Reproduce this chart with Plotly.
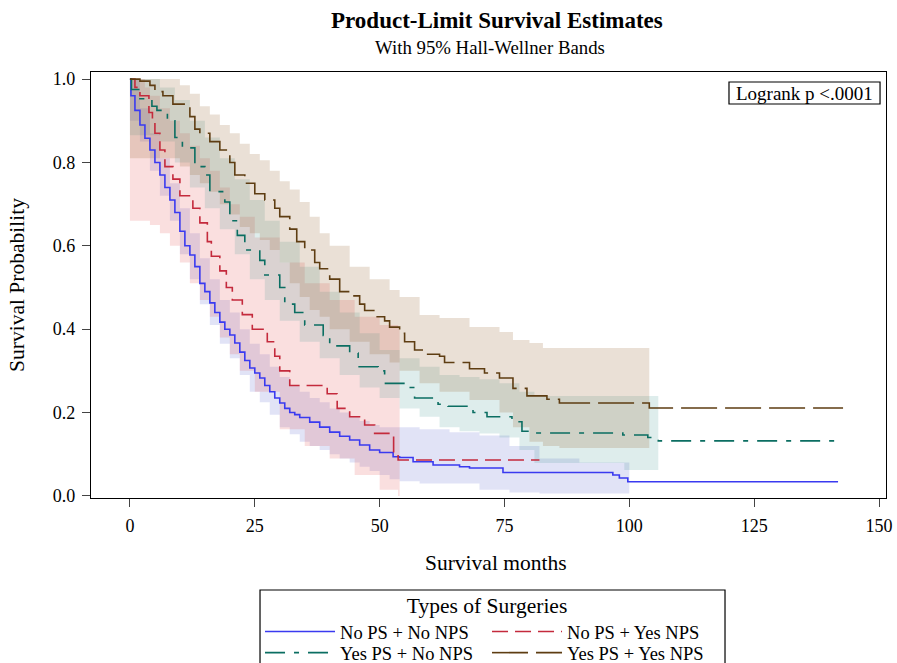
import plotly.graph_objects as go

# ---------------- data ----------------
group_names = ["No PS + No NPS", "No PS + Yes NPS", "Yes PS + No NPS", "Yes PS + Yes NPS"]

blue_t = [0, 0.2, 1, 2, 3, 4, 5, 6, 7, 8, 9, 10, 11, 12, 13, 14, 15, 16, 17, 18, 19, 20, 21, 22,
          23, 24, 25, 26, 27, 28, 29, 30, 31, 32, 33, 34, 36, 38, 40, 42, 44, 46, 48, 50, 52.7,
          54, 56.7, 60.7, 66, 68, 74.7, 96.7, 98, 99.7, 141.8]
blue_s = [1.0, 0.96, 0.925, 0.89, 0.858, 0.83, 0.80, 0.77, 0.74, 0.71, 0.68, 0.635, 0.60, 0.578,
          0.55, 0.51, 0.49, 0.463, 0.44, 0.417, 0.40, 0.386, 0.367, 0.345, 0.325, 0.307, 0.295,
          0.283, 0.265, 0.25, 0.235, 0.223, 0.21, 0.20, 0.195, 0.188, 0.177, 0.165, 0.153, 0.143,
          0.134, 0.122, 0.11, 0.104, 0.094, 0.092, 0.082, 0.074, 0.07, 0.067, 0.056, 0.05, 0.043,
          0.034, 0.034]

red_t = [0, 1, 2, 3.8, 4.5, 5, 6, 7, 8.6, 10, 12.6, 14, 15.5, 16.3, 18, 19.3, 20.5, 22.5, 24.5,
         27.5, 29, 30, 32, 39.5, 41.5, 44, 47, 49, 52.8, 53.7, 82]
red_s = [1.0, 0.98, 0.96, 0.92, 0.90, 0.87, 0.83, 0.79, 0.76, 0.72, 0.69, 0.655, 0.61, 0.575,
         0.54, 0.50, 0.47, 0.435, 0.40, 0.37, 0.335, 0.30, 0.265, 0.245, 0.21, 0.19, 0.17, 0.15,
         0.10, 0.086, 0.086]

green_t = [0, 0.3, 2, 4.4, 5.4, 7.5, 9, 10.5, 13, 15, 16, 19, 20, 21.5, 23, 26, 27, 30, 31, 33,
           35, 38.7, 40, 44, 45.7, 49.7, 51, 55.7, 57, 61.7, 63.7, 68.7, 71.5, 76.5, 78.5, 80.7,
           98.7, 103.7, 105.8, 141.8]
green_s = [1.0, 0.975, 0.953, 0.935, 0.925, 0.90, 0.86, 0.835, 0.79, 0.77, 0.73, 0.705, 0.66,
           0.625, 0.59, 0.565, 0.53, 0.50, 0.46, 0.44, 0.41, 0.385, 0.36, 0.343, 0.31, 0.30, 0.27,
           0.26, 0.235, 0.22, 0.215, 0.20, 0.19, 0.178, 0.155, 0.151, 0.146, 0.14, 0.132, 0.132]

brown_t = [0, 2, 4, 5, 6.6, 8.6, 12, 13, 14, 16, 18, 20, 21, 23, 25, 27, 29, 30, 32, 33.4, 35,
           37, 38, 40, 42, 44, 46, 47, 49, 51, 52, 54, 55, 57, 59, 62, 63, 68, 71, 74, 76.7, 79.5,
           83.5, 86, 104, 142.8]
brown_s = [1.0, 0.995, 0.985, 0.97, 0.96, 0.94, 0.91, 0.88, 0.87, 0.85, 0.83, 0.80, 0.77, 0.75,
           0.725, 0.71, 0.69, 0.67, 0.64, 0.61, 0.59, 0.56, 0.545, 0.52, 0.49, 0.48, 0.46, 0.445,
           0.43, 0.42, 0.405, 0.39, 0.37, 0.35, 0.34, 0.335, 0.32, 0.305, 0.295, 0.283, 0.258,
           0.24, 0.232, 0.223, 0.211, 0.211]

# 95% Hall-Wellner bands
blue_band_t = [0, 2, 4, 6, 8, 10, 12, 14, 16, 18, 20, 22, 24, 26, 28, 30, 32, 34, 36, 38, 40,
               42, 44, 46, 48, 50, 52, 54, 58, 64, 70, 76, 82, 90, 100]
blue_upper = [1.0, 0.93, 0.87, 0.81, 0.75, 0.69, 0.63, 0.57, 0.52, 0.47, 0.44, 0.40, 0.365,
              0.34, 0.31, 0.285, 0.265, 0.25, 0.235, 0.225, 0.21, 0.20, 0.19, 0.18, 0.17, 0.165,
              0.165, 0.165, 0.16, 0.153, 0.145, 0.12, 0.09, 0.08, 0.074]
blue_lower = [0.90, 0.85, 0.78, 0.72, 0.66, 0.58, 0.52, 0.46, 0.41, 0.365, 0.33, 0.29, 0.25,
              0.225, 0.195, 0.165, 0.148, 0.13, 0.12, 0.11, 0.10, 0.09, 0.08, 0.07, 0.06, 0.05,
              0.04, 0.035, 0.03, 0.03, 0.015, 0.008, 0.006, 0.006, 0.0]

red_band_t = [0, 3, 4, 6, 8, 10, 12, 14, 16, 18, 20, 22, 25, 30, 35, 40, 45, 50, 53.7, 54]
red_upper = [1.0, 0.98, 0.96, 0.93, 0.90, 0.87, 0.84, 0.81, 0.78, 0.74, 0.70, 0.67, 0.62, 0.56,
             0.51, 0.47, 0.43, 0.41, 0.40, 0.40]
red_lower = [0.66, 0.66, 0.65, 0.63, 0.60, 0.56, 0.51, 0.47, 0.43, 0.38, 0.34, 0.30, 0.25, 0.16,
             0.12, 0.09, 0.05, 0.015, 0.0, 0.0]

green_band_t = [0, 3, 6, 9, 12, 15, 18, 21, 24, 27, 30, 34, 38, 42, 46, 50, 54, 58, 62, 66, 70,
                74, 78, 81, 99, 105.8]
green_upper = [1.0, 1.0, 0.98, 0.95, 0.90, 0.86, 0.81, 0.76, 0.71, 0.66, 0.61, 0.55, 0.49, 0.44,
               0.39, 0.35, 0.33, 0.31, 0.29, 0.285, 0.28, 0.27, 0.25, 0.24, 0.24, 0.24]
green_lower = [0.865, 0.865, 0.85, 0.80, 0.74, 0.69, 0.64, 0.58, 0.52, 0.47, 0.42, 0.37, 0.33,
               0.29, 0.26, 0.235, 0.21, 0.19, 0.165, 0.155, 0.15, 0.14, 0.11, 0.079, 0.062, 0.062]

brown_band_t = [0, 8, 10, 12, 14, 16, 18, 20, 22, 24, 26, 28, 30, 32, 34, 36, 38, 40, 44, 48, 52,
                54, 58, 62, 68, 74, 76.7, 80, 82.7, 86, 104]
brown_upper = [1.0, 1.0, 0.985, 0.965, 0.935, 0.915, 0.89, 0.87, 0.845, 0.82, 0.805, 0.78, 0.755,
               0.735, 0.705, 0.67, 0.63, 0.60, 0.55, 0.52, 0.494, 0.477, 0.434, 0.427, 0.405,
               0.393, 0.374, 0.367, 0.355, 0.355, 0.355]
brown_lower = [0.81, 0.81, 0.79, 0.77, 0.75, 0.73, 0.70, 0.675, 0.645, 0.63, 0.614, 0.59, 0.56,
               0.51, 0.477, 0.446, 0.43, 0.40, 0.37, 0.34, 0.32, 0.30, 0.27, 0.25, 0.23, 0.20,
               0.165, 0.13, 0.12, 0.115, 0.115]

x_ticks = [0, 25, 50, 75, 100, 125, 150]
y_ticks = [0.0, 0.2, 0.4, 0.6, 0.8, 1.0]

# ---------------- styling ----------------
FONT = "Liberation Serif, Times New Roman, serif"
line_colors = ["#3a3af0", "#c42a3c", "#0b6e62", "#5e3d12"]
band_colors = ["rgba(70,80,200,0.16)", "rgba(225,80,80,0.18)",
               "rgba(60,150,140,0.17)", "rgba(150,100,50,0.2)"]
dashes = ["solid", "16px,7px", "20px,9px,5px,9px", "36px,8px"]
legend_of = ["legend", "legend", "legend2", "legend2"]

curves = [(blue_t, blue_s), (red_t, red_s), (green_t, green_s), (brown_t, brown_s)]
bands = [(blue_band_t, blue_upper, blue_lower), (red_band_t, red_upper, red_lower),
         (green_band_t, green_upper, green_lower), (brown_band_t, brown_upper, brown_lower)]

fig = go.Figure()

for i, (bt, bu, bl) in enumerate(bands):
    fig.add_trace(go.Scatter(x=bt, y=bu, mode="lines", line=dict(width=0, shape="hv"),
                             showlegend=False, hoverinfo="skip"))
    fig.add_trace(go.Scatter(x=bt, y=bl, mode="lines", line=dict(width=0, shape="hv"),
                             fill="tonexty", fillcolor=band_colors[i],
                             showlegend=False, hoverinfo="skip"))

for i, (t, s) in enumerate(curves):
    fig.add_trace(go.Scatter(x=t, y=s, mode="lines", name=group_names[i], legend=legend_of[i],
                             line=dict(color=line_colors[i], width=1.6, shape="hv",
                                       dash=dashes[i])))

legend_common = dict(orientation="h", xanchor="left", yanchor="top", x=0.2126,
                     borderwidth=0, bgcolor="rgba(0,0,0,0)", font=dict(size=18.5),
                     entrywidth=142, entrywidthmode="pixels", itemwidth=70,
                     traceorder="normal")

fig.update_layout(
    width=897, height=663,
    margin=dict(l=91, r=11, t=72, b=165, autoexpand=False),
    paper_bgcolor="white", plot_bgcolor="white",
    font=dict(family=FONT, color="black", size=18),
    showlegend=True,
    legend=dict(y=-0.2042,
                title=dict(text="Types of Surgeries", side="top center",
                           font=dict(size=21.5)),
                **legend_common),
    legend2=dict(y=-0.3195, **legend_common),
    xaxis=dict(range=[-7.8, 151.4], tickvals=x_ticks, ticks="outside", ticklen=8,
               tickwidth=1.3, showline=True, linecolor="black", linewidth=1.3, mirror=True,
               showgrid=False, zeroline=False, tickfont=dict(size=18),
               ticklabeloverflow="allow", ticklabelstandoff=3),
    yaxis=dict(range=[-0.005, 1.017], tickvals=y_ticks, tickformat=".1f", ticks="outside",
               ticklen=8, tickwidth=1.3, showline=True, linecolor="black", linewidth=1.3,
               mirror=True, showgrid=False, zeroline=False, tickfont=dict(size=18),
               ticklabelstandoff=3,
               title=dict(text="Survival Probability", font=dict(size=21.5), standoff=22)),
    shapes=[
        dict(type="rect", xref="paper", yref="paper", x0=0.2126, x1=0.7975, y0=-0.216,
             y1=-0.45, line=dict(color="black", width=1.2), fillcolor="rgba(0,0,0,0)"),
        dict(type="rect", xref="paper", yref="paper", x0=0.8025, x1=0.9925, y0=0.9249,
             y1=0.9765, line=dict(color="black", width=1.2), fillcolor="white"),
    ],
    annotations=[
        dict(text="<b>Product-Limit Survival Estimates</b>", xref="paper", yref="paper",
             x=0.5107, y=1.0, yshift=52, xanchor="center", yanchor="middle", showarrow=False,
             font=dict(size=23)),
        dict(text="With 95% Hall-Wellner Bands", xref="paper", yref="paper",
             x=0.5013, y=1.0, yshift=25, xanchor="center", yanchor="middle", showarrow=False,
             font=dict(size=18.8)),
        dict(text="Survival months", xref="paper", yref="paper", x=0.5094, y=-0.1526,
             xanchor="center", yanchor="middle", showarrow=False, font=dict(size=21.5)),
        dict(text="Logrank p <.0001", xref="paper", yref="paper", x=0.8975, y=0.9507,
             xanchor="center", yanchor="middle", showarrow=False, font=dict(size=19)),
    ],
)

# remove the browser's default 8px page margin so the figure fills the window exactly
fig.write_html("out.html",
               config={"displayModeBar": False},
               post_script="document.body.style.margin='0';"
                           "document.body.style.overflow='hidden';")
